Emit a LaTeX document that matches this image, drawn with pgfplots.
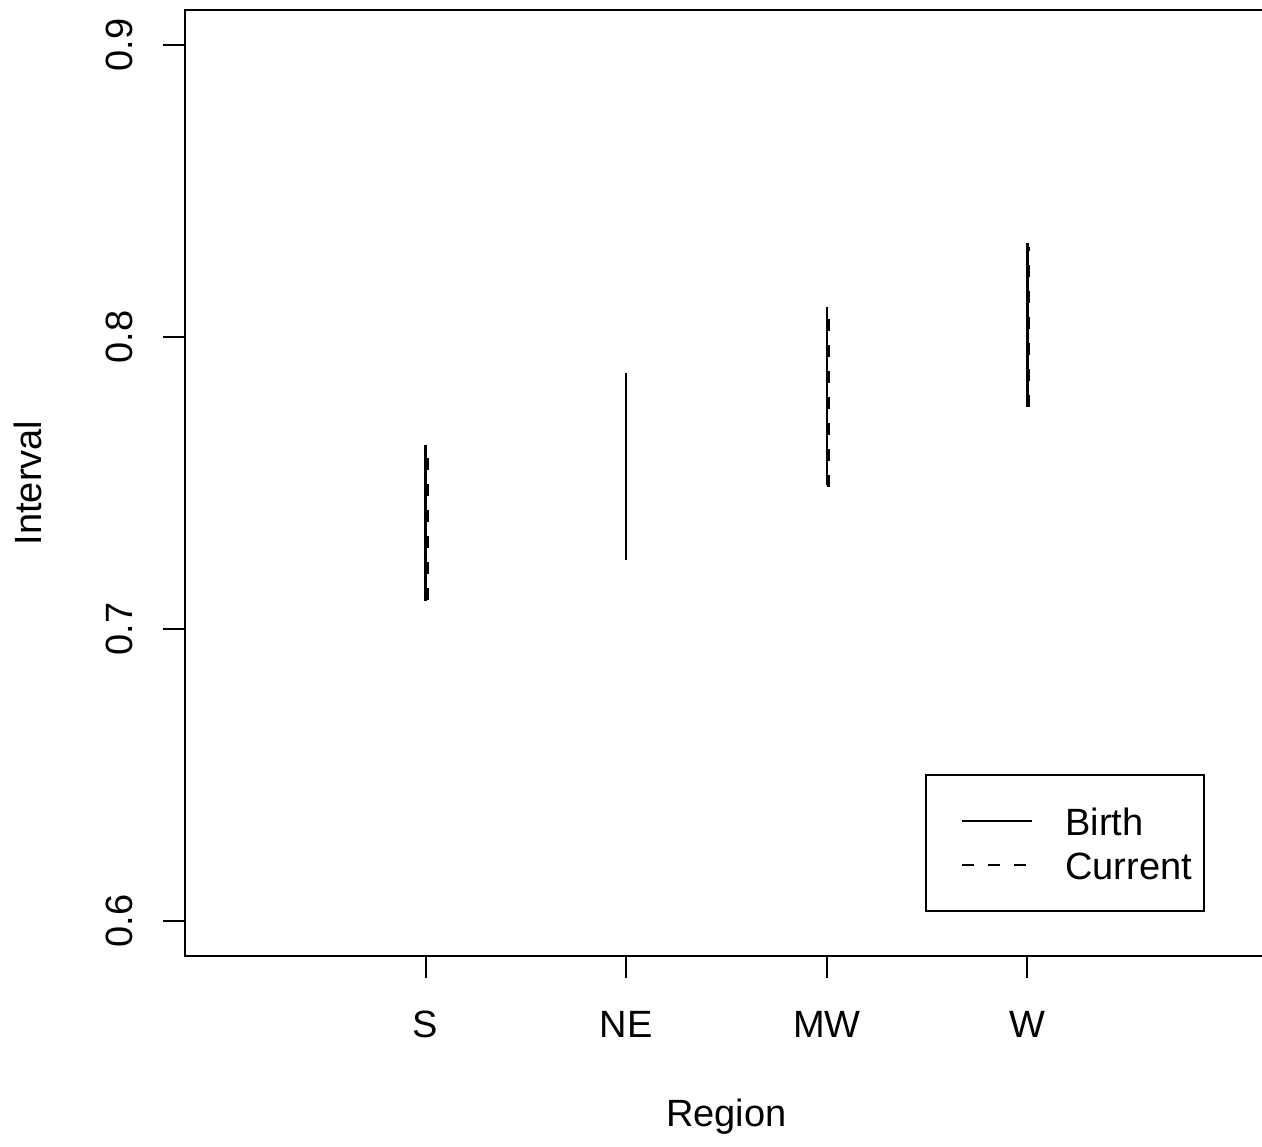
\documentclass[border=0pt]{standalone}
\usepackage{fontspec}
\setmainfont{Liberation Sans}
\usepackage{pgfplots}
\pgfplotsset{compat=1.18}
\begin{document}
\fontsize{19}{23}\selectfont
\begin{tikzpicture}
\useasboundingbox (0,0) rectangle (631pt,-573pt);
\clip (0,0) rectangle (631pt,-573pt);
\begin{axis}[
  at={(92.5pt,-478pt)}, anchor=south west,
  scale only axis, width=541.5pt, height=473pt,
  xmin=-0.2, xmax=5.2, ymin=0.588, ymax=0.912,
  axis line style={line width=1pt},
  every tick/.style={line width=1pt, black},
  tick align=outside, major tick length=11pt,
  xtick={1,2,3,4}, xticklabels={S,NE,MW,W},
  ytick={0.6,0.7,0.8,0.9}, yticklabels={0.6,0.7,0.8,0.9},
  xtick pos=bottom, ytick pos=left,
  /pgf/number format/assume math mode=true,
  tick label style={font=\fontsize{19}{23}\selectfont},
  xticklabel style={anchor=north, inner sep=0pt, yshift=-16.5pt},
  yticklabel style={rotate=90, anchor=south, inner sep=0pt, yshift=15pt},
  xlabel={Region}, ylabel={Interval},
  every axis x label/.style={at={(axis description cs:0.5,-0.170)}, anchor=center, font=\fontsize{19}{23}\selectfont},
  every axis y label/.style={at={(axis description cs:-0.145,0.5)}, rotate=90, anchor=center, font=\fontsize{19}{23}\selectfont},
  legend style={at={(0.6833,0.1924)}, anchor=north west, draw=black, line width=1pt,
    font=\fontsize{19}{23}\selectfont, inner xsep=6pt, inner ysep=10pt,
    row sep=-4pt, column sep=16pt, cells={anchor=west},
    nodes={inner sep=0pt, text height=20pt, text depth=6pt}},
  legend image code/.code={\path (0pt,0pt); \draw[#1, line width=1pt] (11.5pt,0pt) -- (46.5pt,0pt);},
]
% Birth (solid)
\addplot[black, line width=1.2pt] coordinates {(1,0.7097) (1,0.7629)};
\addlegendentry{Birth}
\addplot[black, line width=1.2pt, forget plot] coordinates {(2,0.7235) (2,0.7876)};
\addplot[black, line width=1.2pt, forget plot] coordinates {(3,0.7492) (3,0.8102)};
\addplot[black, line width=1.2pt, forget plot] coordinates {(4,0.7762) (4,0.8321)};
% Current (dashed)
\addplot[black, line width=1.2pt, dash pattern=on 6pt off 7pt] coordinates {(1.009,0.7100) (1.009,0.7618)};
\addlegendentry{Current}
\addplot[black, line width=1.2pt, dash pattern=on 6pt off 7pt, forget plot] coordinates {(2,0.7235) (2,0.7876)};
\addplot[black, line width=1.2pt, dash pattern=on 6pt off 7pt, forget plot] coordinates {(3.009,0.7485) (3.009,0.8095)};
\addplot[black, line width=1.2pt, dash pattern=on 6pt off 7pt, forget plot] coordinates {(4.009,0.7762) (4.009,0.8310)};
\end{axis}
\end{tikzpicture}
\end{document}
